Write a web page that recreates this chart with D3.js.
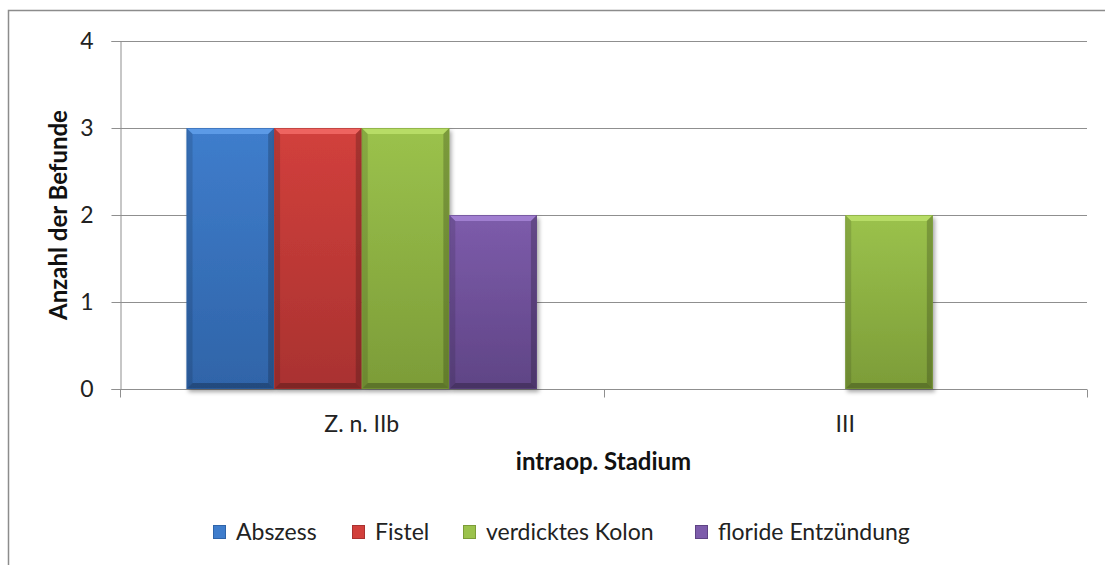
<!DOCTYPE html>
<html>
<head>
<meta charset="utf-8">
<script src="https://cdnjs.cloudflare.com/ajax/libs/d3/7.8.5/d3.min.js"></script>
<style>
  body { margin: 0; background: #ffffff; }
  svg { display: block; font-family: Lato, "Open Sans", sans-serif; }
</style>
</head>
<body>
<svg id="chart" width="1105" height="565"></svg>
<script>
// data
var categories = ["Z. n. IIb", "III"];
var seriesNames = ["Abszess", "Fistel", "verdicktes Kolon", "floride Entzündung"];
var abszess = [3, 0];
var fistel = [3, 0];
var verdicktesKolon = [3, 2];
var florideEntzuendung = [2, 0];
var yTicks = [0, 1, 2, 3, 4];

var seriesValues = [abszess, fistel, verdicktesKolon, florideEntzuendung];
var colors = [
    {base: "#3f7dcc", light: "#5c9ae6", dark: "#2f64a8"},
    {base: "#d2403c", light: "#ee6460", dark: "#a93230"},
    {base: "#9bc24c", light: "#b7dc66", dark: "#7c9c38"},
    {base: "#7d5cab", light: "#a07ed0", dark: "#5f4485"}
];

var svg = d3.select("#chart");
var margin = {left: 120, right: 1087, top: 41, bottom: 389};

// chart frame
svg.append("path")
    .attr("d", "M8.5,570 V10.5 H1110")
    .style("fill", "none")
    .style("stroke", "#8c8c8c")
    .style("stroke-width", 1.5);

var x0 = d3.scaleBand()
    .domain(categories)
    .range([margin.left, margin.right]);
var x1 = d3.scaleBand()
    .domain(d3.range(seriesNames.length))
    .range([0, x0.bandwidth()])
    .paddingOuter(0.76);
var y = d3.scaleLinear()
    .domain([0, 4])
    .range([margin.bottom, margin.top]);

// grid lines
svg.append("g")
    .selectAll("line")
    .data(yTicks.filter(d => d > 0))
    .join("line")
    .attr("x1", margin.left)
    .attr("x2", margin.right)
    .attr("y1", d => Math.round(y(d)) + 0.5)
    .attr("y2", d => Math.round(y(d)) + 0.5)
    .style("stroke", "#8f8f8f");

// y axis
var yAxis = svg.append("g")
    .attr("transform", "translate(" + (margin.left + 0.5) + ",0)")
    .call(d3.axisLeft(y).tickValues(yTicks).tickSize(9).tickPadding(18).tickFormat(d3.format("d")));
yAxis.selectAll("line").style("stroke", "#8f8f8f");
yAxis.select(".domain").style("stroke", "#8f8f8f");
yAxis.selectAll("text")
    .style("font-size", "23px")
    .style("font-family", "Lato, sans-serif")
    .style("fill", "#222");

// x axis
var xAxis = svg.append("g")
    .attr("transform", "translate(0," + (margin.bottom + 0.5) + ")");
xAxis.append("line")
    .attr("x1", margin.left).attr("x2", margin.right)
    .style("stroke", "#8f8f8f");
var bounds = [margin.left].concat(categories.map(c => x0(c) + x0.bandwidth()));
xAxis.selectAll(".tk")
    .data(bounds)
    .join("line")
    .attr("class", "tk")
    .attr("x1", d => Math.round(d) + 0.5)
    .attr("x2", d => Math.round(d) + 0.5)
    .attr("y1", 0).attr("y2", 8)
    .style("stroke", "#8f8f8f");
xAxis.selectAll("text")
    .data(categories)
    .join("text")
    .attr("x", d => x0(d) + x0.bandwidth() / 2)
    .attr("y", 42)
    .attr("text-anchor", "middle")
    .style("font-size", "23px")
    .style("fill", "#222")
    .text(d => d);

// bars with bevel
var defs = svg.append("defs");
colors.forEach(function (c, i) {
    var g = defs.append("linearGradient")
        .attr("id", "grad" + i)
        .attr("x1", 0).attr("y1", 0).attr("x2", 0).attr("y2", 1);
    g.append("stop").attr("offset", "0%").attr("stop-color", c.base);
    g.append("stop").attr("offset", "100%").attr("stop-color", c.dark);
});
var shadow = defs.append("filter").attr("id", "shadow")
    .attr("x", "-10%").attr("y", "-10%").attr("width", "130%").attr("height", "130%");
shadow.append("feDropShadow")
    .attr("dx", 2).attr("dy", 3).attr("stdDeviation", 2)
    .attr("flood-color", "#000").attr("flood-opacity", 0.35);

var bars = [];
categories.forEach(function (cat, ci) {
    seriesValues.forEach(function (vals, si) {
        if (vals[ci] > 0) bars.push({cat: cat, s: si, v: vals[ci]});
    });
});

var bar = svg.append("g")
    .selectAll("g")
    .data(bars)
    .join("g")
    .attr("transform", d => "translate(" + (x0(d.cat) + x1(d.s)) + "," + y(d.v) + ")");

var bw = x1.bandwidth();
var bev = 6;
bar.append("rect")
    .attr("width", bw)
    .attr("height", d => y(0) - y(d.v))
    .style("fill", d => "url(#grad" + d.s + ")")
    .style("filter", "url(#shadow)");
// top bevel
bar.append("path")
    .attr("d", "M0,0 H" + bw + " L" + (bw - bev) + "," + bev + " H" + bev + " Z")
    .style("fill", d => colors[d.s].light);
// left bevel
bar.append("path")
    .attr("d", d => { var h = y(0) - y(d.v); return "M0,0 L" + bev + "," + bev + " V" + (h - bev) + " L0," + h + " Z"; })
    .style("fill", "#000").style("fill-opacity", 0.12);
// right bevel
bar.append("path")
    .attr("d", d => { var h = y(0) - y(d.v); return "M" + bw + ",0 L" + (bw - bev) + "," + bev + " V" + (h - bev) + " L" + bw + "," + h + " Z"; })
    .style("fill", "#000").style("fill-opacity", 0.2);
// bottom bevel
bar.append("path")
    .attr("d", d => { var h = y(0) - y(d.v); return "M0," + h + " L" + bev + "," + (h - bev) + " H" + (bw - bev) + " L" + bw + "," + h + " Z"; })
    .style("fill", "#000").style("fill-opacity", 0.25);
bar.append("rect")
    .attr("x", 0.5).attr("y", 0.5)
    .attr("width", bw - 1)
    .attr("height", d => y(0) - y(d.v) - 1)
    .style("fill", "none")
    .style("stroke", d => colors[d.s].dark)
    .style("stroke-opacity", 0.6);

// axis titles
svg.append("text")
    .attr("transform", "translate(67," + ((margin.top + margin.bottom) / 2) + ") rotate(-90)")
    .attr("text-anchor", "middle")
    .style("font-size", "24px")
    .style("font-weight", "bold")
    .style("fill", "#111")
    .text("Anzahl der Befunde");
svg.append("text")
    .attr("x", (margin.left + margin.right) / 2)
    .attr("y", 470)
    .attr("text-anchor", "middle")
    .style("font-size", "24px")
    .style("font-weight", "bold")
    .style("fill", "#111")
    .text("intraop. Stadium");

// legend
var legendX = [213, 352, 463, 695];
var legend = svg.append("g")
    .selectAll("g")
    .data(seriesNames)
    .join("g")
    .attr("transform", (d, i) => "translate(" + legendX[i] + ",540)");
legend.append("rect")
    .attr("x", 0.5).attr("y", -14.5)
    .attr("width", 12).attr("height", 13)
    .style("fill", (d, i) => colors[i].base)
    .style("stroke", (d, i) => colors[i].dark)
    .style("stroke-width", 1);
legend.append("text")
    .attr("x", 23)
    .attr("y", 0)
    .style("font-size", "23px")
    .style("fill", "#222")
    .text(d => d);
</script>
</body>
</html>
